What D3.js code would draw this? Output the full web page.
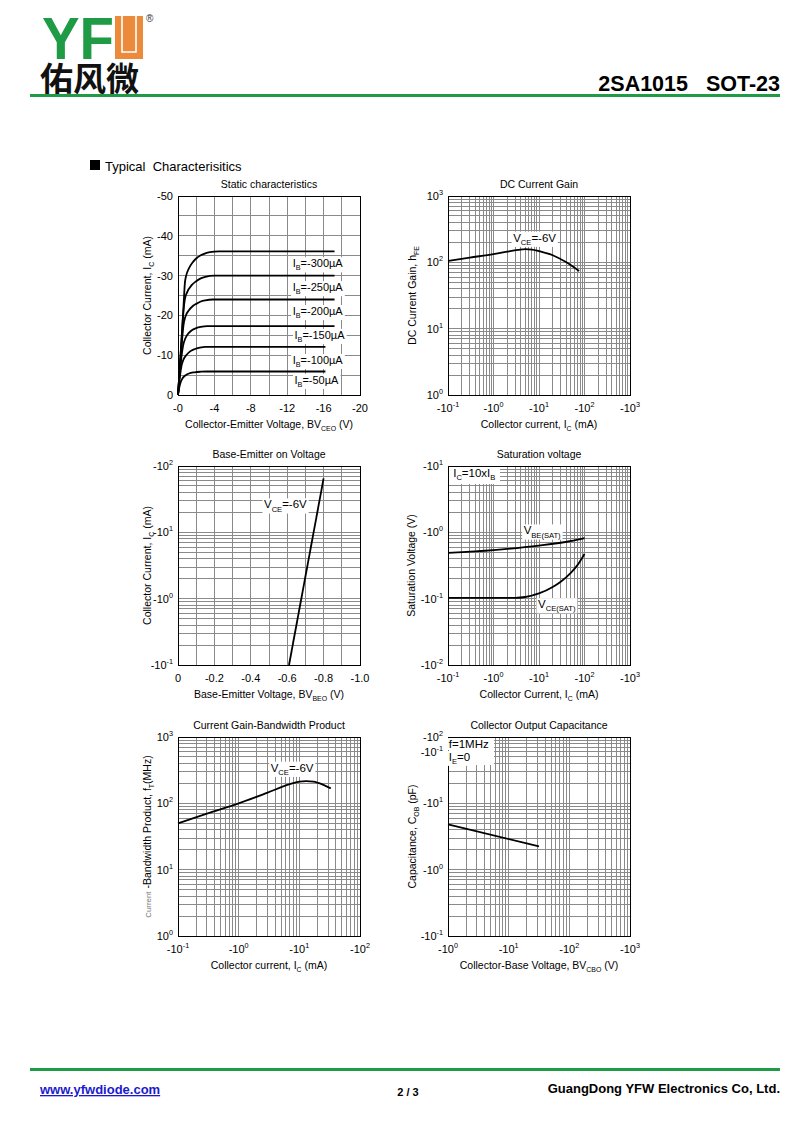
<!DOCTYPE html>
<html><head><meta charset="utf-8">
<script src="https://cdn.jsdelivr.net/npm/d3@7"></script>
<style>
body{margin:0;background:#fff;}
svg{display:block;font-family:"Liberation Sans",Arial,Helvetica,sans-serif;}
</style></head><body>
<svg id="page" width="800" height="1130"></svg>
<script>
// ================= DATA =================
// Static characteristics: Ic (mA, magnitude) vs Vce (V, magnitude), one curve per Ib
const staticLabels = ["I_{B}=-300µA","I_{B}=-250µA","I_{B}=-200µA","I_{B}=-150µA","I_{B}=-100µA","I_{B}=-50µA"];
const staticIb300 = [[0,0],[0.2,7],[0.4,14.5],[0.6,22],[0.75,28],[0.9,30],[1.2,31.8],[1.6,33.3],[2,34.3],[2.5,35.1],[3,35.6],[3.5,35.9],[4.5,36.1],[17.2,36.1]];
const staticIb250 = [[0,0],[0.2,7],[0.4,14],[0.6,21],[0.75,24],[1,25.8],[1.5,27.6],[2,28.6],[2.5,29.3],[3,29.7],[4,30],[17.2,30]];
const staticIb200 = [[0,0],[0.2,6.5],[0.4,12.5],[0.6,17.5],[0.8,19.6],[1.2,21.3],[1.6,22.3],[2,22.9],[2.5,23.5],[3,23.8],[3.8,24],[17.2,24]];
const staticIb150 = [[0,0],[0.2,5.5],[0.4,10],[0.55,12.3],[0.8,14.2],[1.2,15.6],[1.6,16.4],[2,16.8],[2.5,17.1],[3.2,17.3],[17.2,17.3]];
const staticIb100 = [[0,0],[0.2,4.5],[0.4,7.5],[0.6,8.9],[0.9,10],[1.3,10.9],[1.8,11.5],[2.4,11.9],[3,12.1],[16.2,12.1]];
const staticIb50  = [[0,0],[0.15,2],[0.3,3.3],[0.5,4.2],[0.8,4.9],[1.2,5.4],[1.8,5.7],[2.5,5.85],[3.2,5.9],[16.2,5.9]];
const staticXTicks = [0,4,8,12,16,20];
const staticXLabels = ["-0","-4","-8","-12","-16","-20"];
const staticYTicks = [0,10,20,30,40,50];
const staticYLabels = ["0","-10","-20","-30","-40","-50"];

// DC current gain: hFE vs Ic (mA)
const hfeIc  = [0.1,0.3,1,2,3.5,5,7,10,20,40,76];
const hfeVal = [105,118,133,145,154,158,156,147,128,100,74];

// Base-emitter on voltage: Ic (mA) vs Vbe (V)
const vbeV  = [0.61,0.80];
const vbeIc = [0.1,65];

// Saturation voltage vs Ic (mA)
const satIcBe = [0.1,1,10,50,100];
const satVbe  = [0.49,0.54,0.63,0.74,0.82];
const satIcCe = [0.1,3,5,10,20,30,50,70,100];
const satVce  = [0.103,0.103,0.106,0.12,0.15,0.18,0.245,0.32,0.47];

// Gain-bandwidth product fT (MHz) vs Ic (mA)
const ftIc  = [0.1,0.3,1,3,7,10,13,17,25,33];
const ftVal = [50,70,100,145,195,212,216,213,190,168];

// Output capacitance Cob (pF) vs Vcb (V)
const cobV   = [1,31.6];
const cobVal = [4.8,2.25];

// Tick label lists
const decTicks4 = [0.1,1,10,100,1000];
const decLabelsNeg4 = ["-10^{-1}","-10^{0}","-10^{1}","-10^{2}","-10^{3}"];
const decTicks3a = [0.1,1,10,100];
const decLabelsNeg3a = ["-10^{-1}","-10^{0}","-10^{1}","-10^{2}"];
const decTicks3b = [1,10,100,1000];
const decLabelsNeg3b = ["-10^{0}","-10^{1}","-10^{2}","-10^{3}"];
const decLabelsPos3b = ["10^{0}","10^{1}","10^{2}","10^{3}"];
const satYTicks = [0.01,0.1,1,10];
const satYLabels = ["-10^{-2}","-10^{-1}","-10^{0}","-10^{1}"];
const vbeXTicks = [0,0.2,0.4,0.6,0.8,1.0];
const vbeXLabels = ["0","-0.2","-0.4","-0.6","-0.8","-1.0"];
const cobYTicks = [0.1,1,10,100,60];
const cobYLabels = ["-10^{-1}","-10^{0}","-10^{1}","-10^{2}","-10^{-1}"];

// ================= DRAWING =================
const svg = d3.select("#page");
const GRID = "#8a8a8a";

function rich(t, str, size) {
  const parts = str.split(/(_\{[^}]*\}|\^\{[^}]*\}|~\{[^}]*\})/).filter(s => s.length);
  let cur = 0;
  parts.forEach(p => {
    let txt = p, fs = size, off = 0, fill = null;
    if (p.startsWith("_{")) { txt = p.slice(2,-1); fs = size*0.66; off = size*0.28; }
    else if (p.startsWith("^{")) { txt = p.slice(2,-1); fs = size*0.66; off = -size*0.45; }
    else if (p.startsWith("~{")) { txt = p.slice(2,-1); fs = size*0.75; fill = "#777"; }
    const ts = t.append("tspan").text(txt).attr("font-size", fs);
    if (off - cur !== 0) ts.attr("dy", off - cur);
    if (fill) ts.attr("fill", fill);
    cur = off;
  });
  return t;
}

function boxedLabel(g, x, y, str, size, anchor) {
  const t = g.append("text").attr("x", x).attr("y", y).attr("font-size", size)
    .attr("text-anchor", anchor || "start");
  rich(t, str, size);
  const b = t.node().getBBox();
  g.insert("rect", () => t.node()).attr("x", b.x - 1.5).attr("y", b.y).attr("width", b.width + 3)
    .attr("height", b.height).attr("fill", "#fff");
  return t;
}

function panel(o) {
  const g = svg.append("g");
  const x = (o.xLog ? d3.scaleLog() : d3.scaleLinear()).domain(o.xDomain).range([o.px0, o.px1]);
  const y = (o.yLog ? d3.scaleLog() : d3.scaleLinear()).domain(o.yDomain).range([o.py1, o.py0]);
  const gridG = g.append("g").attr("shape-rendering", "crispEdges");
  gridG.selectAll("line.gx").data(x.ticks(10)).join("line")
    .attr("x1", d => x(d)).attr("x2", d => x(d)).attr("y1", o.py0).attr("y2", o.py1)
    .attr("stroke", GRID).attr("stroke-width", 1);
  gridG.selectAll("line.gy").data(y.ticks(10)).join("line")
    .attr("y1", d => y(d)).attr("y2", d => y(d)).attr("x1", o.px0).attr("x2", o.px1)
    .attr("stroke", GRID).attr("stroke-width", 1);
  (o.boxes || []).forEach(b => {
    g.append("rect").attr("x", o.px0).attr("y", o.py0).attr("width", b[0]).attr("height", b[1]).attr("fill", "#fff");
  });
  g.append("rect").attr("x", o.px0).attr("y", o.py0).attr("width", o.px1 - o.px0).attr("height", o.py1 - o.py0)
    .attr("fill", "none").attr("stroke", "#000").attr("stroke-width", 1).attr("shape-rendering", "crispEdges");
  const line = d3.line().x(d => x(d[0])).y(d => y(d[1])).curve(o.curve || d3.curveMonotoneX);
  o.series.forEach(s => {
    g.append("path").datum(s).attr("d", line).attr("fill", "none").attr("stroke", "#000").attr("stroke-width", 1.8);
  });
  o.xTicks.forEach((v, i) => {
    const t = g.append("text").attr("x", x(v)).attr("y", o.py1 + 17).attr("font-size", 11).attr("text-anchor", "middle");
    rich(t, o.xLabels[i], 11);
  });
  o.yTicks.forEach((v, i) => {
    const t = g.append("text").attr("x", o.px0 - 5).attr("y", y(v) + 4).attr("font-size", 11).attr("text-anchor", "end");
    rich(t, o.yLabels[i], 11);
  });
  const cx = (o.px0 + o.px1) / 2;
  g.append("text").attr("x", cx).attr("y", o.py0 - 8).attr("font-size", 10.5).attr("text-anchor", "middle").text(o.title);
  rich(g.append("text").attr("x", cx).attr("y", o.py1 + 33).attr("font-size", 10.5).attr("text-anchor", "middle"), o.xTitle, 10.5);
  rich(g.append("text").attr("transform", `translate(${o.yTitleX + 4},${(o.py0 + o.py1) / 2}) rotate(-90)`)
    .attr("font-size", 10.5).attr("text-anchor", "middle"), o.yTitle, 10.5);
  (o.labels || []).forEach(l => boxedLabel(g, x(l[0]), y(l[1]), l[2], l[3] || 11, l[4]));
  return g;
}

const L = [178, 360], R = [448, 630];
const rows = [[196, 395], [466, 665], [737, 936]];
const zip = (a, b) => a.map((v, i) => [v, b[i]]);

panel({
  px0: L[0], px1: L[1], py0: rows[0][0], py1: rows[0][1],
  xDomain: [0, 20], yDomain: [0, 50],
  series: [staticIb300, staticIb250, staticIb200, staticIb150, staticIb100, staticIb50],
  xTicks: staticXTicks, xLabels: staticXLabels, yTicks: staticYTicks, yLabels: staticYLabels,
  title: "Static characteristics", xTitle: "Collector-Emitter Voltage, BV_{CEO} (V)",
  yTitle: "Collector Current, I_{C} (mA)", yTitleX: 147,
  labels: [[12.6, 32.1, staticLabels[0]], [12.6, 26.1, staticLabels[1]], [12.6, 20.1, staticLabels[2]],
           [12.8, 14.1, staticLabels[3]], [12.6, 7.8, staticLabels[4]], [12.8, 2.8, staticLabels[5]]]
});

panel({
  px0: R[0], px1: R[1], py0: rows[0][0], py1: rows[0][1],
  xLog: true, yLog: true, xDomain: [0.1, 1000], yDomain: [1, 1000],
  series: [zip(hfeIc, hfeVal)],
  xTicks: decTicks4, xLabels: decLabelsNeg4, yTicks: decTicks3b, yLabels: decLabelsPos3b,
  title: "DC Current Gain", xTitle: "Collector current, I_{C} (mA)",
  yTitle: "DC Current Gain, h_{FE}", yTitleX: 412,
  labels: [[8, 205, "V_{CE}=-6V", 11.5, "middle"]]
});

panel({
  px0: L[0], px1: L[1], py0: rows[1][0], py1: rows[1][1],
  yLog: true, xDomain: [0, 1.0], yDomain: [0.1, 100],
  series: [zip(vbeV, vbeIc)], curve: d3.curveLinear,
  xTicks: vbeXTicks, xLabels: vbeXLabels, yTicks: decTicks3a, yLabels: decLabelsNeg3a,
  title: "Base-Emitter on Voltage", xTitle: "Base-Emitter Voltage, BV_{BEO} (V)",
  yTitle: "Collector Current, I_{C} (mA)", yTitleX: 147,
  labels: [[0.59, 23, "V_{CE}=-6V", 11.5, "middle"]]
});

panel({
  px0: R[0], px1: R[1], py0: rows[1][0], py1: rows[1][1],
  xLog: true, yLog: true, xDomain: [0.1, 1000], yDomain: [0.01, 10],
  series: [zip(satIcBe, satVbe), zip(satIcCe, satVce)],
  xTicks: decTicks4, xLabels: decLabelsNeg4, yTicks: satYTicks, yLabels: satYLabels,
  title: "Saturation voltage", xTitle: "Collector Current, I_{C} (mA)",
  yTitle: "Saturation Voltage (V)", yTitleX: 411,
  boxes: [[52, 18]],
  labels: [[0.13, 6.8, "I_{C}=10xI_{B}", 11.5], [4.6, 0.93, "V_{BE(SAT)}", 11.5], [9.5, 0.072, "V_{CE(SAT)}", 11.5]]
});

panel({
  px0: L[0], px1: L[1], py0: rows[2][0], py1: rows[2][1],
  xLog: true, yLog: true, xDomain: [0.1, 100], yDomain: [1, 1000],
  series: [zip(ftIc, ftVal)],
  xTicks: decTicks3a, xLabels: decLabelsNeg3a, yTicks: decTicks3b, yLabels: decLabelsPos3b,
  title: "Current Gain-Bandwidth Product", xTitle: "Collector current, I_{C} (mA)",
  yTitle: "~{Current} -Bandwidth Product, f_{T}(MHz)", yTitleX: 147,
  labels: [[7.6, 300, "V_{CE}=-6V", 11.5, "middle"]]
});

panel({
  px0: R[0], px1: R[1], py0: rows[2][0], py1: rows[2][1],
  xLog: true, yLog: true, xDomain: [1, 1000], yDomain: [0.1, 100],
  series: [zip(cobV, cobVal)], curve: d3.curveLinear,
  xTicks: decTicks3b, xLabels: decLabelsNeg3b, yTicks: cobYTicks, yLabels: cobYLabels,
  title: "Collector Output Capacitance", xTitle: "Collector-Base Voltage, BV_{CBO} (V)",
  yTitle: "Capacitance, C_{OB} (pF)", yTitleX: 412,
  boxes: [[46, 28]],
  labels: [[1.03, 68, "f=1MHz", 11.5], [1.03, 44, "I_{E}=0", 11.5]]
});

// ================= PAGE DECORATION =================
svg.append("text").attr("x", 42).attr("y", 59).attr("font-size", 60).attr("font-weight", "bold")
  .attr("fill", "#1f9a45").attr("textLength", 72).attr("lengthAdjust", "spacingAndGlyphs").text("YF");
svg.append("rect").attr("x", 115).attr("y", 16).attr("width", 28).attr("height", 43).attr("fill", "#ec8a3c");
svg.append("path").attr("d", "M122,16 V52 H136 V16").attr("fill", "none").attr("stroke", "#fff").attr("stroke-width", 1.6);
svg.append("text").attr("x", 146).attr("y", 22).attr("font-size", 10).attr("fill", "#333").text("®");
svg.append("text").attr("x", 40).attr("y", 91).attr("font-size", 33).attr("font-weight", "bold")
  .attr("font-family", "'Noto Sans CJK SC', sans-serif").attr("fill", "#111").text("佑风微");
svg.append("text").attr("x", 780).attr("y", 91).attr("font-size", 21.5).attr("font-weight", "bold")
  .attr("text-anchor", "end").attr("xml:space", "preserve").style("white-space", "pre").text("2SA1015   SOT-23");
svg.append("rect").attr("x", 30).attr("y", 94).attr("width", 750).attr("height", 3).attr("fill", "#1f9a45");

svg.append("rect").attr("x", 90).attr("y", 160).attr("width", 10).attr("height", 10).attr("fill", "#000");
svg.append("text").attr("x", 105).attr("y", 171).attr("font-size", 13).attr("xml:space", "preserve")
  .style("white-space", "pre").text("Typical  Characterisitics");

svg.append("rect").attr("x", 30).attr("y", 1068).attr("width", 750).attr("height", 3).attr("fill", "#1f9a45");
svg.append("text").attr("x", 40).attr("y", 1094).attr("font-size", 13).attr("font-weight", "bold")
  .attr("fill", "#1a1acc").attr("text-decoration", "underline").text("www.yfwdiode.com");
svg.append("text").attr("x", 408).attr("y", 1096).attr("font-size", 11).attr("font-weight", "bold")
  .attr("text-anchor", "middle").text("2 / 3");
svg.append("text").attr("x", 780).attr("y", 1093).attr("font-size", 13).attr("font-weight", "bold")
  .attr("text-anchor", "end").text("GuangDong YFW Electronics Co, Ltd.");
</script>
</body></html>
